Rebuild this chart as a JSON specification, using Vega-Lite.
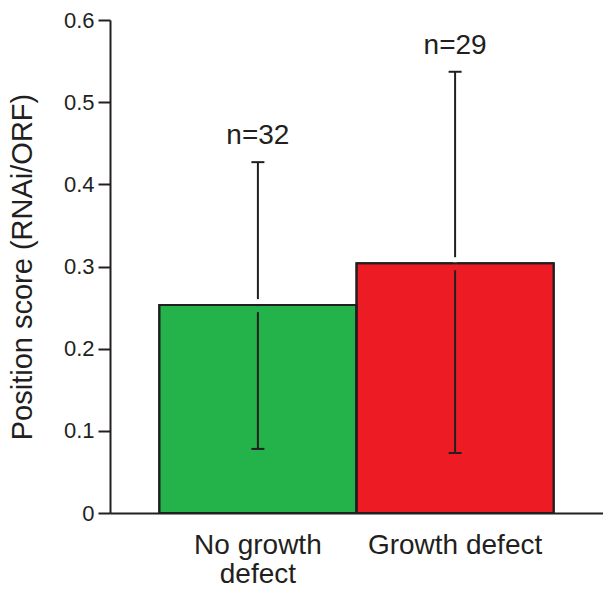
{
  "$schema": "https://vega.github.io/schema/vega-lite/v6.json",
  "width": 493,
  "height": 493,
  "autosize": "none",
  "padding": {"left": 110, "top": 20, "right": 0, "bottom": 77},
  "background": "white",
  "config": {
    "view": {"stroke": null},
    "font": "Liberation Sans",
    "axis": {"grid": false, "labelFont": "Liberation Sans", "titleFont": "Liberation Sans", "labelColor": "#231f20", "titleColor": "#231f20", "domainColor": "#231f20", "tickColor": "#231f20"}
  },
  "data": {
    "values": [
      {"group": "No growth defect", "mean": 0.253, "lo": 0.078, "hi": 0.427, "n": "n=32"},
      {"group": "Growth defect", "mean": 0.304, "lo": 0.073, "hi": 0.537, "n": "n=29"}
    ]
  },
  "encoding": {
    "x": {
      "field": "group", "type": "nominal", "sort": ["No growth defect", "Growth defect"],
      "scale": {"paddingInner": 0, "paddingOuter": 0.25},
      "axis": {
        "title": null, "labelAngle": 0, "ticks": false, "domainWidth": 2,
        "labelFontSize": 28, "labelPadding": 18, "labelLineHeight": 29,
        "labelExpr": "datum.value == 'No growth defect' ? ['No growth', 'defect'] : datum.value"
      }
    }
  },
  "layer": [
    {
      "mark": {"type": "bar", "stroke": "#231f20", "strokeWidth": 2},
      "encoding": {
        "y": {
          "field": "mean", "type": "quantitative",
          "scale": {"domain": [0, 0.6], "nice": false},
          "axis": {
            "title": "Position score (RNAi/ORF)", "titleFontSize": 29, "titleFontWeight": "normal", "titlePadding": 26,
            "values": [0, 0.1, 0.2, 0.3, 0.4, 0.5, 0.6],
            "labelExpr": "datum.value == 0 ? '0' : format(datum.value, '.1f')",
            "labelFontSize": 22, "labelPadding": 4, "tickSize": 12, "tickWidth": 2, "domainWidth": 2
          }
        },
        "fill": {
          "field": "group", "type": "nominal",
          "scale": {"domain": ["No growth defect", "Growth defect"], "range": ["#24b24b", "#ed1c24"]},
          "legend": null
        }
      }
    },
    {
      "mark": {"type": "rule", "color": "#231f20", "strokeWidth": 2},
      "encoding": {"y": {"field": "lo", "type": "quantitative"}, "y2": {"field": "hi"}}
    },
    {
      "mark": {"type": "tick", "color": "white", "size": 4, "thickness": 6, "yOffset": -3, "opacity": 1},
      "encoding": {"y": {"field": "mean", "type": "quantitative"}}
    },
    {
      "mark": {"type": "tick", "size": 4, "thickness": 6, "yOffset": 4, "opacity": 1},
      "encoding": {
        "y": {"field": "mean", "type": "quantitative"},
        "color": {"field": "group", "type": "nominal", "scale": {"domain": ["No growth defect", "Growth defect"], "range": ["#24b24b", "#ed1c24"]}, "legend": null}
      }
    },
    {
      "mark": {"type": "bar", "fill": null, "fillOpacity": 0, "stroke": "#231f20", "strokeWidth": 2},
      "encoding": {"y": {"field": "mean", "type": "quantitative"}}
    },
    {
      "mark": {"type": "tick", "color": "#231f20", "size": 13, "thickness": 2, "opacity": 1},
      "encoding": {"y": {"field": "hi", "type": "quantitative"}}
    },
    {
      "mark": {"type": "tick", "color": "#231f20", "size": 13, "thickness": 2, "opacity": 1},
      "encoding": {"y": {"field": "lo", "type": "quantitative"}}
    },
    {
      "mark": {"type": "text", "fontSize": 28, "color": "#231f20", "baseline": "alphabetic", "dy": -18},
      "encoding": {"y": {"field": "hi", "type": "quantitative"}, "text": {"field": "n"}}
    }
  ]
}
